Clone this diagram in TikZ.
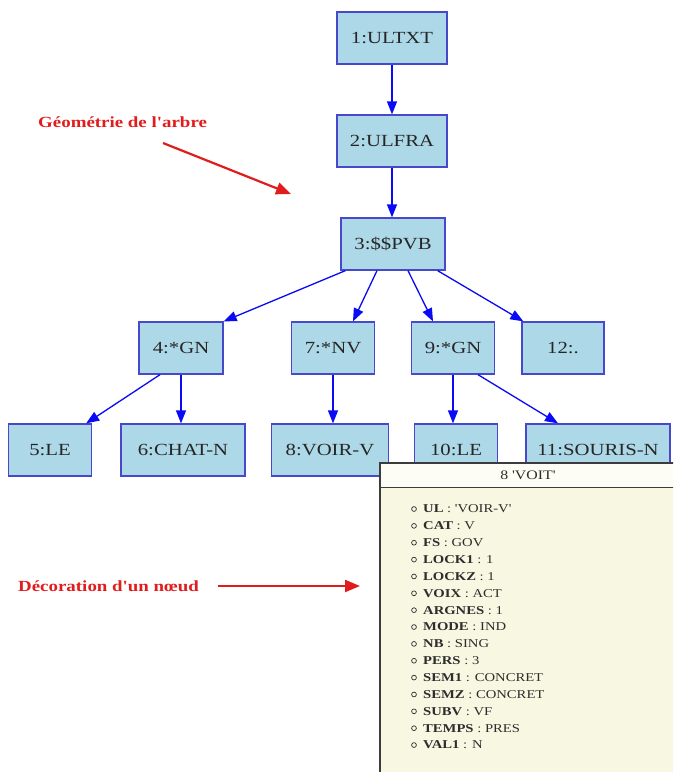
\documentclass[tikz,border=0pt]{standalone}
\usepackage{fontspec}
\setmainfont{Liberation Serif}
\newfontfamily\stretchfont[FakeStretch=1.22]{Liberation Serif}
\usetikzlibrary{arrows.meta}
\definecolor{nodefill}{RGB}{173,216,232}
\definecolor{nodeborder}{RGB}{72,72,205}
\definecolor{edgeblue}{RGB}{10,10,245}
\definecolor{labelred}{RGB}{225,28,28}
\definecolor{popbody}{RGB}{247,247,226}
\definecolor{pophead}{RGB}{253,253,246}
\definecolor{popborder}{RGB}{60,60,60}
\definecolor{poptext}{RGB}{45,45,45}
\begin{document}
\begin{tikzpicture}[x=1pt,y=-1pt,
  treenode/.style={draw=nodeborder, line width=1.3pt, fill=nodefill,
    minimum height=52pt, inner sep=0pt, text=black!85,
    font=\stretchfont\fontsize{17}{20}\selectfont},
  edge/.style={draw=edgeblue, line width=1.3pt, -{Triangle[length=13pt,width=10pt]}},
  redlabel/.style={text=labelred, anchor=west, inner sep=0pt,
    font=\stretchfont\bfseries\fontsize{15.5}{18}\selectfont},
  redarrow/.style={draw=labelred, line width=2.2pt, -{Triangle[length=15pt,width=12pt]}},
  itemtext/.style={anchor=west, inner sep=0pt, text=poptext,
    font=\stretchfont\fontsize{12}{14}\selectfont},
  bulletmark/.style={draw=poptext, line width=0.7pt}
]
\useasboundingbox (0,0) rectangle (673,772);
\clip (0,0) rectangle (673,772);
\fill[white] (0,0) rectangle (673,772);

% tree nodes
\node[treenode, minimum width=110pt] (n1) at (392,38) {1:ULTXT};
\node[treenode, minimum width=110pt] (n2) at (392,141) {2:ULFRA};
\node[treenode, minimum width=104pt] (n3) at (393,244) {3:\$\$PVB};
\node[treenode, minimum width=84pt] (n4) at (181,348) {4:*GN};
\node[treenode, minimum width=83pt] (n7) at (333,348) {7:*NV};
\node[treenode, minimum width=83pt] (n9) at (453,348) {9:*GN};
\node[treenode, minimum width=82pt] (n12) at (563,348) {12:.};
\node[treenode, minimum width=83pt] (n5) at (50,450) {5:LE};
\node[treenode, minimum width=124pt] (n6) at (183,450) {6:CHAT-N};
\node[treenode, minimum width=117pt] (n8) at (330,450) {8:VOIR-V};
\node[treenode, minimum width=83pt] (n10) at (456,450) {10:LE};
\node[treenode, minimum width=144pt] (n11) at (598,450) {11:SOURIS-N};

% connectors
\draw[edge] (n1.south) -- (n2.north);
\draw[edge] (n2.south) -- (n3.north -| n2.south);
\draw[edge] ([xshift=5pt]n3.south west) -- (n4.north east);
\draw[edge] ([xshift=-16pt]n3.south) -- ([xshift=20pt]n7.north);
\draw[edge] ([xshift=15pt]n3.south) -- ([xshift=-20pt]n9.north);
\draw[edge] ([xshift=-8pt]n3.south east) -- ([xshift=2pt]n12.north west);
\draw[edge] ([xshift=-21pt]n4.south) -- ([xshift=-6pt]n5.north east);
\draw[edge] (n4.south) -- (n4.south |- n6.north);
\draw[edge] (n7.south) -- (n7.south |- n8.north);
\draw[edge] (n9.south) -- (n9.south |- n10.north);
\draw[edge] ([xshift=25pt]n9.south) -- ([xshift=-40pt]n11.north);

% red annotations
\node[redlabel] (lgeo) at (38,122) {Géométrie de l'arbre};
\coordinate (ga1) at (163,143);
\coordinate (ga2) at (291,194);
\draw[redarrow] (ga1) -- (ga2);
\node[redlabel] (ldeco) at (18,586) {Décoration d'un nœud};
\coordinate (da1) at (218,586);
\coordinate (da2) at (360,586);
\draw[redarrow] (da1) -- (da2);

% popup panel
\fill[popbody] (380,463) rectangle (690,790);
\fill[pophead] (380,463) rectangle (690,487);
\draw[popborder, line width=1.6pt] (380,790) -- (380,463) -- (690,463);
\draw[popborder, line width=1pt] (380,487) -- (690,487);
\node[inner sep=0pt, text=poptext, font=\stretchfont\fontsize{13}{15}\selectfont] (phead) at (528,475) {8 'VOIT'};

\foreach \k/\v [count=\i] in {UL/{'VOIR-V'}, CAT/V, FS/GOV, LOCK1/1, LOCKZ/1,
    VOIX/ACT, ARGNES/1, MODE/IND, NB/SING, PERS/3, SEM1/CONCRET, SEMZ/CONCRET,
    SUBV/VF, TEMPS/PRES, VAL1/N} {
  \pgfmathsetmacro{\yy}{509+16.86*(\i-1)}
  \draw[bulletmark] (414,\yy) circle (2.4pt);
  \node[itemtext] (item\i) at (423,\yy) {\textbf{\k} : \v};
}
\end{tikzpicture}
\end{document}
